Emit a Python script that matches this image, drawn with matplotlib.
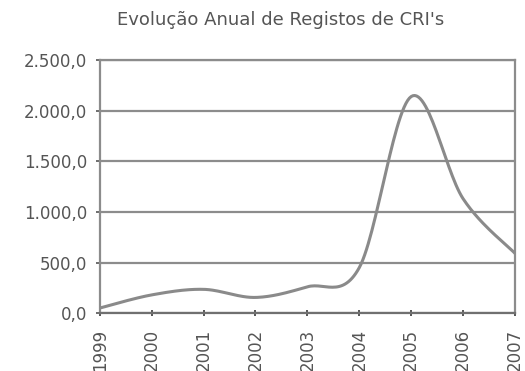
import numpy as np
import matplotlib
matplotlib.use("Agg")
import matplotlib.pyplot as plt
from matplotlib.ticker import FuncFormatter

years = ["1999", "2000", "2001", "2002", "2003", "2004", "2005", "2006", "2007"]
values = [50, 180, 235, 155, 260, 450, 2140, 1130, 590]
title = "Evolução Anual de Registos de CRI's"

plt.rcParams['font.family'] = ['DejaVu Sans']

def smooth(x, y, n=30):
    # Catmull-Rom style smoothing between data points (like Excel smoothed line)
    x = np.asarray(x, float); y = np.asarray(y, float)
    xs, ys = [], []
    for i in range(len(x) - 1):
        p0 = np.array([x[i-1] if i > 0 else x[i], y[i-1] if i > 0 else y[i]])
        p1 = np.array([x[i], y[i]])
        p2 = np.array([x[i+1], y[i+1]])
        p3 = np.array([x[i+2] if i+2 < len(x) else x[i+1], y[i+2] if i+2 < len(x) else y[i+1]])
        t = np.linspace(0, 1, n)[:, None]
        pts = 0.5 * ((2*p1) + (-p0 + p2)*t + (2*p0 - 5*p1 + 4*p2 - p3)*t**2 + (-p0 + 3*p1 - 3*p2 + p3)*t**3)
        xs.extend(pts[:, 0]); ys.extend(pts[:, 1])
    return np.array(xs), np.array(ys)

fig = plt.figure(figsize=(5.25, 3.71), dpi=100)
ax = fig.add_axes([0.19, 0.156, 0.791, 0.682])

xpos = np.arange(len(years))
sx, sy = smooth(xpos, values)
ax.plot(sx, sy, color='#8a8a8a', lw=2.2, solid_capstyle='round', zorder=3)

ax.set_xlim(0, len(years) - 1)
ax.set_ylim(0, 2500)
ax.set_yticks(np.arange(0, 2501, 500))
ax.yaxis.set_major_formatter(FuncFormatter(lambda v, p: f"{v:,.1f}".replace(",", "X").replace(".", ",").replace("X", ".")))
ax.set_xticks(xpos)
ax.set_xticklabels(years, rotation=90, fontsize=12, color='#555555')
ax.tick_params(axis='y', labelsize=12, colors='#555555', length=3, width=1.2, direction='out', pad=6)
ax.tick_params(axis='x', length=5, width=1.4, direction='inout', pad=9, color='#555555')
ax.grid(axis='y', color='#8c8c8c', lw=1.6, zorder=1)
for s in ax.spines.values():
    s.set_color('#8c8c8c')
    s.set_linewidth(1.6)
ax.spines['bottom'].set_color('#707070')

fig.text(0.535, 0.946, title, ha='center', va='center', fontsize=13, color='#555555')
fig.savefig("out.png", dpi=100, facecolor='white')
